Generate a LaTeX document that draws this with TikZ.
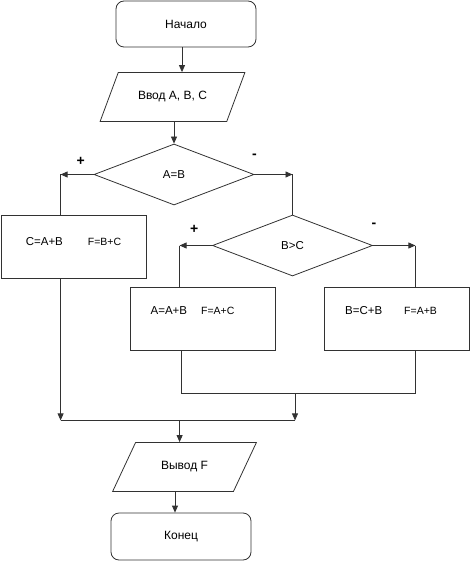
\documentclass[tikz,border=0pt]{standalone}
\usepackage{fontspec}
\setmainfont{Liberation Sans}
\usepackage{tikz}
\usetikzlibrary{shapes.geometric, arrows.meta, positioning, calc}
\definecolor{linegray}{RGB}{50, 50, 50}
\tikzstyle{terminal} = [
    rectangle,
    rounded corners=8pt,
    minimum width=140pt,
    minimum height=46pt,
    draw=linegray,
    line width=0.8pt,
    font=\fontsize{12}{14}\selectfont
]
\tikzstyle{io} = [
    trapezium,
    trapezium left angle=54,
    trapezium right angle=126,
    trapezium stretches=true,
    minimum width=145pt,
    minimum height=49pt,
    draw=linegray,
    line width=0.8pt,
    font=\fontsize{12}{14}\selectfont
]
\tikzstyle{decision} = [
    diamond,
    minimum width=160pt,
    minimum height=61pt,
    inner sep=0pt,
    draw=linegray,
    line width=0.8pt,
    font=\fontsize{11.5}{13}\selectfont
]
\tikzstyle{process} = [
    rectangle,
    minimum width=145pt,
    minimum height=63pt,
    text height=8pt,
    draw=linegray,
    line width=0.8pt,
    font=\fontsize{11.5}{13}\selectfont
]
\tikzstyle{arrow} = [
    line width=0.8pt,
    -{Triangle[length=7pt, width=6pt]},
    color=linegray
]
\tikzstyle{line} = [
    line width=0.8pt,
    color=linegray
]
\tikzstyle{sign} = [
    font=\bfseries\fontsize{14}{16}\selectfont
]
\newcommand{\fsmall}[1]{{\fontsize{10.5}{12}\selectfont #1}}

\begin{document}
\begin{tikzpicture}[x=1pt, y=-1pt, node distance=73pt]
        \useasboundingbox (0,0) rectangle (471,561);

        \node[terminal] (start) at (186,24) {Начало};
        \node[io, below of=start, xshift=-13.5pt] (input) {Ввод А, В, С};
        \node[decision, below of=input, xshift=1.5pt, yshift=-4.5pt] (d1) {A=B};
        \node[process, below of=d1, xshift=-100.5pt, yshift=1pt, text depth=11pt] (boxC) {C=A+B\hspace{25pt}\fsmall{F=B+C}};
        \node[decision, below of=d1, xshift=118.5pt, yshift=2pt] (d2) {B>C};
        \node[process, below of=d2, xshift=-90pt, text depth=16pt] (boxA) {\hspace*{-20pt}A=A+B\hspace{14pt}\fsmall{F=A+C}};
        \node[process, below of=d2, xshift=104pt, text depth=16pt] (boxB) {\hspace*{-11pt}B=C+B\hspace{22pt}\fsmall{F=A+B}};
        \node[io, below of=boxA, xshift=-18pt, yshift=-75.5pt] (output) {Вывод F};
        \node[terminal, below of=output, xshift=-3.5pt, yshift=3.5pt, minimum height=47pt] (end) {Конец};

        % branch corners
        \coordinate (d1l) at ([xshift=60pt]boxC.west |- d1.west);
        \coordinate (d1r) at (d2.north |- d1.east);
        \coordinate (d2l) at ([xshift=50pt]boxA.west |- d2.west);
        \coordinate (d2r) at ([xshift=-54pt]boxB.east |- d2.east);
        \coordinate (jA) at ([xshift=52pt,yshift=-43pt]boxA.south west);
        \coordinate (jB) at (d2r |- jA);
        \coordinate (jM) at ([xshift=2.5pt]d2.south |- jA);
        \coordinate (mR) at ([yshift=-27pt]jM);
        \coordinate (mL) at (d1l |- mR);

        \node[sign] at ([xshift=-13pt, yshift=13pt]d1.west) {+};
        \node[sign] at ([yshift=18pt]d1.east) {-};
        \node[sign] at ([xshift=-18pt, yshift=16.5pt]d2.west) {+};
        \node[sign] at ([xshift=1pt, yshift=20.5pt]d2.east) {-};

        \draw[arrow] ([xshift=-4pt]start.south) -- ([xshift=-4pt]start.south |- input.north);
        \draw[arrow] (d1.north |- input.south) -- (d1.north);
        \draw[arrow] (d1.west) -- (d1l);
        \draw[line] (d1l) -- (d1l |- boxC.north);
        \draw[arrow] (d1.east) -- (d1r);
        \draw[line] (d1r) -- (d2.north);
        \draw[arrow] (d2.west) -- (d2l);
        \draw[line] (d2l) -- (d2l |- boxA.north);
        \draw[arrow] (d2.east) -- (d2r);
        \draw[line] (d2r) -- (d2r |- boxB.north);
        \draw[line] (jA |- boxA.south) -- (jA) -- (jB) -- (jB |- boxB.south);
        \draw[arrow] (jM) -- (mR);
        \draw[arrow] (d1l |- boxC.south) -- (mL);
        \draw[line] (mL) -- (mR);
        \draw[arrow] (d2l |- mR) -- (d2l |- output.north);
        \draw[arrow] ([xshift=-6pt]end.north |- output.south) -- ([xshift=-6pt]end.north);
    \end{tikzpicture}
\end{document}
